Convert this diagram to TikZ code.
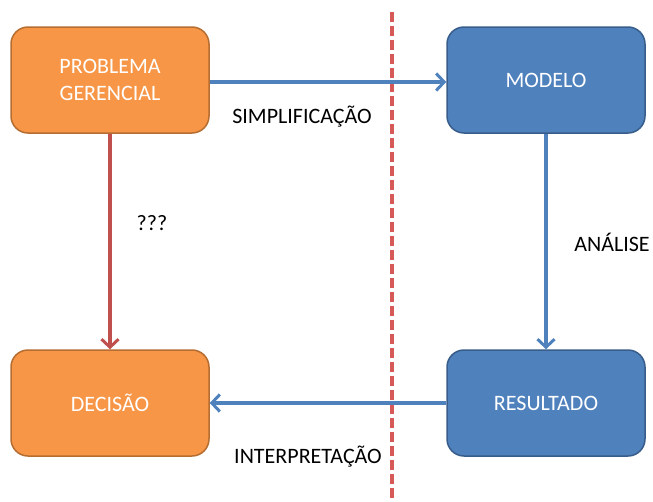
\documentclass[tikz,border=0pt]{standalone}
\usepackage{fontspec}
\setmainfont{Carlito}
\usetikzlibrary{arrows.meta}
\definecolor{orfill}{HTML}{F79646}
\definecolor{ordraw}{HTML}{B66D31}
\definecolor{blfill}{HTML}{4F81BD}
\definecolor{bldraw}{HTML}{385D8A}
\definecolor{redline}{HTML}{C0504D}
\definecolor{dashred}{HTML}{D55A57}
\tikzset{
  box/.style={rounded corners=17pt, line width=1.5pt, minimum width=198pt, minimum height=106pt,
    text=white, font=\fontsize{22}{27}\selectfont, align=center, inner sep=0pt},
  orbox/.style={box, fill=orfill, draw=ordraw},
  blbox/.style={box, fill=blfill, draw=bldraw},
  conn/.style={line width=3.5pt, -{Straight Barb[length=8pt,width=17pt,line width=3pt]}},
  lbl/.style={font=\fontsize{22}{26}\selectfont, text=black, inner sep=0pt}
}
\begin{document}
\begin{tikzpicture}[x=1pt,y=-1pt]
\useasboundingbox (0,0) rectangle (653,501);
\draw[dashred, line width=3.5pt, dash pattern=on 10pt off 4pt] (392,12) coordinate (dtop) -- (392,501) coordinate (dbot);
\node[orbox] (prob) at (110,80) {PROBLEMA\\GERENCIAL};
\node[blbox] (mod) at (546,80) {MODELO};
\node[orbox] (dec) at (110,403) {DECISÃO};
\node[blbox] (res) at (546,403) {RESULTADO};
\draw[conn, blfill] (prob.east |- 0,82) -- (mod.west |- 0,82);
\draw[conn, blfill] (mod.south) -- (res.north);
\draw[conn, blfill] (res.west) -- (dec.east);
\draw[conn, redline] (prob.south) -- (dec.north);
\node[lbl] (simp) at (302,117) {SIMPLIFICAÇÃO};
\node[lbl] (interp) at (308,457) {INTERPRETAÇÃO};
\node[lbl] (q) at (152,223) {???};
\node[lbl] (anal) at (612,242) {ANÁLISE};
\end{tikzpicture}
\end{document}
